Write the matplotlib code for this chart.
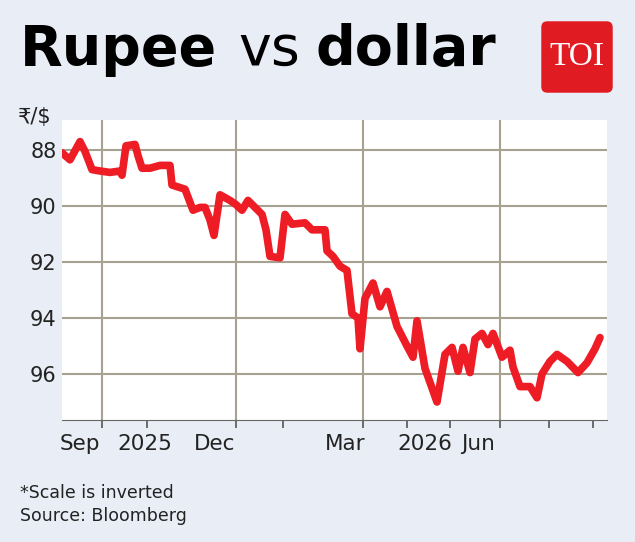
import matplotlib
matplotlib.use("Agg")
import matplotlib.pyplot as plt
from matplotlib.patches import FancyBboxPatch

plt.rcParams['font.family'] = ['DejaVu Sans']

# time position (chart units) and rupee per dollar
pos = [62,70,80,85,92,100,110,120,122,126,135,138,142,150,160,170,172,185,193,200,205,210,214,220,230,236,242,248,255,262,266,270,280,285,292,305,312,325,327,333,340,347,352,358,
       360,365,373,380,387,397,407,413,417,425,437,445,452,458,463,470,475,482,488,493,502,510,513,520,530,537,542,550,557,567,578,587,595,600]
rate = [88.1,88.35,87.7,88.05,88.7,88.75,88.8,88.75,88.9,87.85,87.8,88.2,88.65,88.65,88.55,88.55,89.25,89.4,90.15,90.05,90.05,90.5,91.05,89.6,89.8,89.95,90.15,89.8,90.05,90.3,90.85,91.8,91.85,90.3,90.65,90.6,90.85,90.85,91.6,91.8,92.15,92.3,93.85,94.0,
        95.1,93.3,92.75,93.6,93.05,94.3,95.0,95.4,94.1,95.8,97.0,95.3,95.05,95.9,95.05,95.95,94.75,94.55,94.95,94.55,95.4,95.15,95.75,96.45,96.45,96.85,96.0,95.55,95.3,95.55,95.95,95.6,95.1,94.7]

yticks = [88, 90, 92, 94, 96]
xlabels = ["Sep", "2025", "Dec", "Mar", "2026", "Jun"]
xlabel_pos = [80, 145, 215, 345, 425, 478]
grid_x = [102, 236, 363, 500]
tick_x = [102, 147, 236, 283, 363, 407, 450, 500, 549, 593]

bg = '#e9edf5'
fig = plt.figure(figsize=(6.35, 5.42), dpi=100, facecolor=bg)
ax = fig.add_axes([62/635, 122/542, 545/635, 300/542])
ax.set_facecolor('white')
gc = '#a8a190'
for y in yticks:
    ax.axhline(y, color=gc, lw=1.5, zorder=1)
for x in grid_x:
    ax.axvline(x, color=gc, lw=1.5, zorder=1)
ax.plot(pos, rate, color='#ee1c25', lw=5.5, solid_joinstyle='round', solid_capstyle='round', zorder=3)
ax.set_xlim(62, 607)
ax.set_ylim(88 + 270/28, 88 - 30/28)
for s in ['top', 'right', 'left']:
    ax.spines[s].set_visible(False)
ax.spines['bottom'].set_color('#666666')
ax.set_yticks(yticks)
ax.set_yticklabels([str(v) for v in yticks], fontsize=15, color='#222222')
ax.tick_params(axis='y', length=0, pad=4)
ax.set_xticks(tick_x)
ax.set_xticklabels([])
ax.tick_params(axis='x', length=6, color='#555555', width=1.2)
for lab, xp in zip(xlabels, xlabel_pos):
    ax.text(xp, -0.045, lab, transform=ax.get_xaxis_transform(), ha='center', va='top', fontsize=15.5, color='#222222')

fig.text(18/635, 1 - 117/542, '₹/$', fontsize=15, color='#222222', va='center', ha='left')
fig.text(20/635, 1 - 50/542, 'Rupee', fontsize=40, fontweight='bold', va='center', ha='left', color='black')
fig.text(238/635, 1 - 50/542, 'vs', fontsize=40, va='center', ha='left', color='black')
fig.text(316/635, 1 - 50/542, 'dollar', fontsize=40, fontweight='bold', va='center', ha='left', color='black')

lax = fig.add_axes([539/635, 1 - 95/542, 76/635, 76/542])
lax.set_axis_off()
lax.add_patch(FancyBboxPatch((0.03, 0.03), 0.94, 0.94, boxstyle='round,pad=0.0,rounding_size=0.08', fc='#e01b22', ec='none', transform=lax.transAxes))
lax.text(0.5, 0.5, 'TOI', family=['Liberation Serif', 'DejaVu Serif'], fontsize=24, color='white', ha='center', va='center', transform=lax.transAxes)

fig.text(20/635, 1 - 493/542, '*Scale is inverted', fontsize=12.5, color='#222222', va='center')
fig.text(20/635, 1 - 516/542, 'Source: Bloomberg', fontsize=12.5, color='#222222', va='center')

fig.savefig('out.png', dpi=100, facecolor=bg)
